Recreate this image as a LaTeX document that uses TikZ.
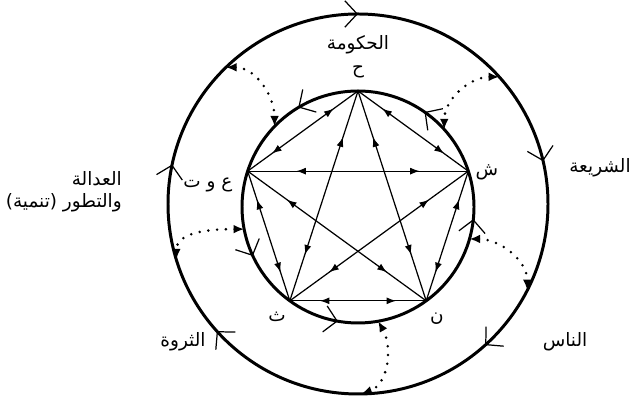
\documentclass[tikz,border=0pt]{standalone}
\usepackage{fontspec}
\usetikzlibrary{arrows.meta,decorations.markings}
\TeXXeTstate=1
\newfontfamily\arabicfont[Script=Arabic]{DejaVu Sans}
\newcommand\artext[1]{{\arabicfont\beginR #1\endR}}
\begin{document}
\begin{tikzpicture}[x=.02cm,y=.02cm,line cap=butt,line join=miter,font=\fontsize{10.5}{12.5}\selectfont]
    \tikzset{ring/.style={line width=1.7pt},
        barb/.style={line width=.7pt,-{Straight Barb[length=7pt,width=15pt]}},
        link/.style={line width=.7pt,postaction={decorate},decoration={markings,
                mark=at position .22 with {\arrowreversed{Latex[length=5.5pt,width=4pt]}},
                mark=at position .78 with {\arrow{Latex[length=5.5pt,width=4pt]}}}},
        dots/.style={line width=1.6pt,line cap=round,dash pattern=on 0pt off 5pt,
            {Latex[length=6pt,width=5pt]}-{Latex[length=6pt,width=5pt]}}
    }
    \useasboundingbox (0,0) rectangle (632,404);
    \coordinate (O) at (358,200);
    \coordinate (I) at (358,197);
    \draw[ring] (O) circle (190);
    \draw[ring] (I) circle (116);
    % outer ring runs clockwise, inner ring counter-clockwise
    \foreach \a in {90,13,-48,-138,168}
    \draw[barb] (O) ++(\a+10:190) arc[start angle=\a+10,end angle=\a,radius=190];
    \foreach \a in {121,55,-6,-100,205}
    \draw[barb] (I) ++(\a-10:116) arc[start angle=\a-10,end angle=\a,radius=116];
    % the five corners and the ten links between them
    \foreach \n/\a in {H/90,S/18,N/-54,T/-126,A/162}
    \path (I) ++(\a:116) coordinate (\n);
    \foreach \u/\v in {H/S,S/N,N/T,T/A,A/H,H/N,H/T,S/T,S/A,A/N}
    \draw[link] (\u) -- (\v);
    % dotted exchanges between the rings
    \path (O) ++(134:190) coordinate (o1) (I) ++(136:116) coordinate (i1)
    (O) ++(42:190) coordinate (o2) (I) ++(42:116) coordinate (i2)
    (O) ++(-27:190) coordinate (o3) (I) ++(-16:116) coordinate (i3)
    (O) ++(-89:190) coordinate (o4) (I) ++(-80:116) coordinate (i4)
    (O) ++(197:190) coordinate (o5) (I) ++(191:116) coordinate (i5);
    \draw[dots] (o1) to[out=0,in=90] (i1);
    \draw[dots] (o2) to[out=180,in=90] (i2);
    \draw[dots] (i3) to[out=0,in=90] (o3);
    \draw[dots] (i4) to[out=-60,in=20] (o4);
    \draw[dots] (i5) to[out=180,in=90] (o5);
    % labels
    \node (govt) at (358,359) {\artext{الحكومة}};
    \node (govtL) at (358,332) {\artext{ح}};
    \node (law) at (600,236) {\artext{الشريعة}};
    \node (lawL) at (487,232) {\artext{ش}};
    \node[anchor=east,align=right] (just) at (128,212) {\artext{العدالة}\\\artext{والتطور (تنمية)}};
    \node (justL) at (208,219) {\artext{ع و ت}};
    \node (wealthL) at (277,87) {\artext{ث}};
    \node (peopleL) at (437,85) {\artext{ن}};
    \node (wealth) at (183,62) {\artext{الثروة}};
    \node (people) at (565,62) {\artext{الناس}};
\end{tikzpicture}
\end{document}
